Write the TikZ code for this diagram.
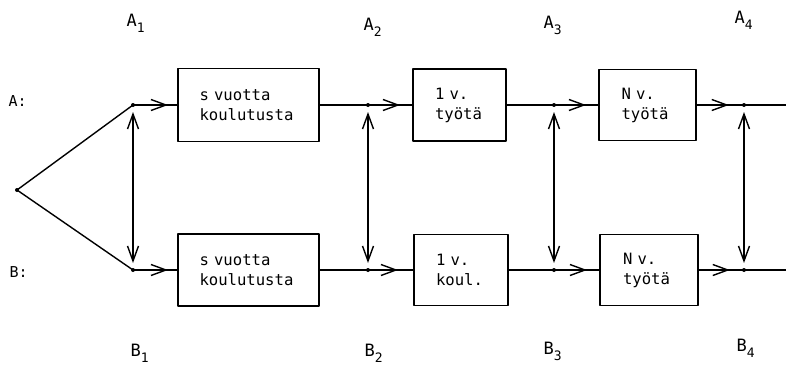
\documentclass[tikz,border=0pt]{standalone}
\usepackage{fontspec}
\newfontfamily\typew{DejaVu Sans Mono}
\usetikzlibrary{arrows.meta,decorations.markings}
\newcommand{\lbsub}[1]{\raisebox{-6pt}{\fontsize{13}{13}\selectfont #1}}
\tikzset{
  >={Straight Barb[length=15pt,width=11pt]},
  box/.style={draw, line width=1.6pt, rectangle, inner sep=0pt, align=left,
    font=\fontsize{15.6}{20}\selectfont\typew},
  lab/.style={anchor=base west, inner sep=0pt, font=\fontsize{17}{17}\selectfont\typew},
  rowlab/.style={anchor=base west, inner sep=0pt, font=\fontsize{15}{15}\selectfont\typew},
  marr/.style={postaction={decorate},
    decoration={markings, mark=at position #1 with {\arrow{>}}}},
  vdbl/.style={<->, shorten <=7pt, shorten >=7pt},
  jdot/.style={fill, radius=2pt},
}
\begin{document}
\begin{tikzpicture}[x=1pt,y=-1pt,line width=1.4pt,line cap=round,line join=round]
\useasboundingbox (0,0) rectangle (786,364);
% boxes
\node[box, minimum width=141pt, minimum height=73pt, text width=98pt] (a1) at (248.5,105) {s vuotta\\koulutusta};
\node[box, minimum width=93pt, minimum height=72pt, text width=49pt] (a2) at (459.5,105) {1 v.\\työtä};
\node[box, minimum width=97pt, minimum height=71pt, text width=52pt] (a3) at (647.5,105) {N v.\\työtä};
\node[box, minimum width=141pt, minimum height=72pt, text width=98pt] (b1) at (248.5,270) {s vuotta\\koulutusta};
\node[box, minimum width=94pt, minimum height=71pt, text width=50pt] (b2) at (461,270) {1 v.\\koul.};
\node[box, minimum width=98pt, minimum height=71pt, text width=52pt] (b3) at (649,270) {N v.\\työtä};
% junctions
\coordinate (s) at (17,190);
\coordinate (ja1) at (133,105);
\coordinate (ja2) at (368,105);
\coordinate (ja3) at (554,105);
\coordinate (ja4) at (744,105);
\coordinate (ea) at (786,105);
\coordinate (jb1) at (133,270);
\coordinate (jb2) at (368,270);
\coordinate (jb3) at (554,270);
\coordinate (jb4) at (744,270);
\coordinate (eb) at (786,270);
% diagonals
\draw (s) -- (ja1);
\draw (s) -- (jb1);
% row A
\draw[marr=35pt] (ja1) -- (a1.west);
\draw (a1.east) -- (ja2);
\draw[marr=32pt] (ja2) -- (a2.west);
\draw (a2.east) -- (ja3);
\draw[marr=32pt] (ja3) -- (a3.west);
\draw[marr=32pt] (a3.east) -- (ja4);
\draw (ja4) -- (ea);
% row B
\draw[marr=35pt] (jb1) -- (b1.west);
\draw (b1.east) -- (jb2);
\draw[marr=30pt] (jb2) -- (b2.west);
\draw (b2.east) -- (jb3);
\draw[marr=33pt] (jb3) -- (b3.west);
\draw[marr=31pt] (b3.east) -- (jb4);
\draw (jb4) -- (eb);
% vertical double arrows
\draw[vdbl] (ja1) -- (jb1);
\draw[vdbl] (ja2) -- (jb2);
\draw[vdbl] (ja3) -- (jb3);
\draw[vdbl] (ja4) -- (jb4);
% junction dots
\fill[jdot] (s) circle;
\fill[jdot] (ja1) circle; \fill[jdot] (ja2) circle; \fill[jdot] (ja3) circle; \fill[jdot] (ja4) circle;
\fill[jdot] (jb1) circle; \fill[jdot] (jb2) circle; \fill[jdot] (jb3) circle; \fill[jdot] (jb4) circle;
% labels
\node[rowlab] (la) at (8,106) {A:};
\node[rowlab] (lb) at (9,277) {B:};
\node[lab] (ta1) at (126,26) {A\lbsub{1}};
\node[lab] (ta2) at (363,30) {A\lbsub{2}};
\node[lab] (ta3) at (543,28) {A\lbsub{3}};
\node[lab] (ta4) at (734,23) {A\lbsub{4}};
\node[lab] (tb1) at (130,356) {B\lbsub{1}};
\node[lab] (tb2) at (364,356) {B\lbsub{2}};
\node[lab] (tb3) at (543,354) {B\lbsub{3}};
\node[lab] (tb4) at (736,351) {B\lbsub{4}};
\end{tikzpicture}
\end{document}
